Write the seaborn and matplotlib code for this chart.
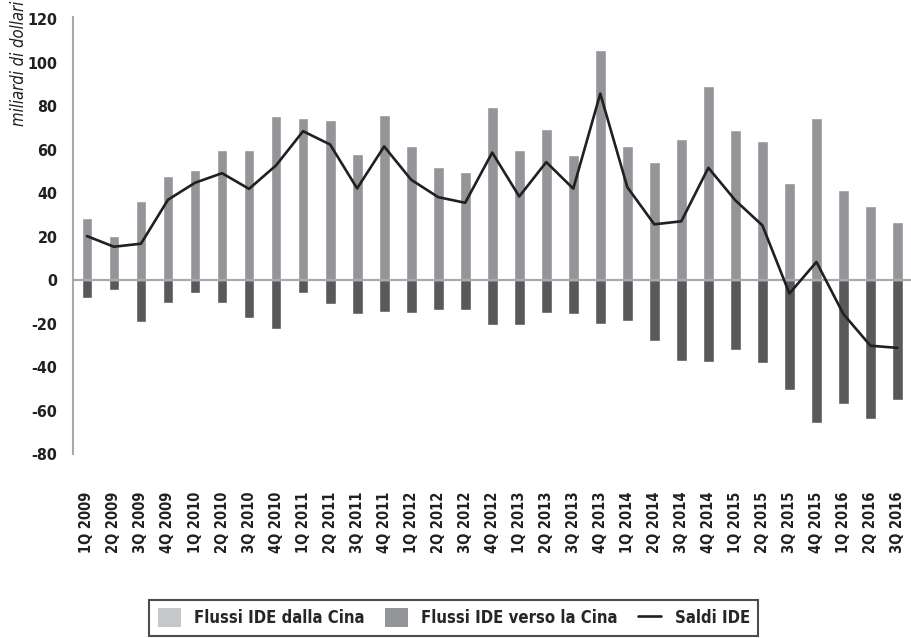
import matplotlib as mpl
mpl.use('Agg')
import matplotlib.pyplot as plt
from matplotlib.patches import Patch
from matplotlib.lines import Line2D
from matplotlib.font_manager import FontProperties
import pandas as pd
import seaborn as sns

quarters = ['1Q 2009', '2Q 2009', '3Q 2009', '4Q 2009',
            '1Q 2010', '2Q 2010', '3Q 2010', '4Q 2010',
            '1Q 2011', '2Q 2011', '3Q 2011', '4Q 2011',
            '1Q 2012', '2Q 2012', '3Q 2012', '4Q 2012',
            '1Q 2013', '2Q 2013', '3Q 2013', '4Q 2013',
            '1Q 2014', '2Q 2014', '3Q 2014', '4Q 2014',
            '1Q 2015', '2Q 2015', '3Q 2015', '4Q 2015',
            '1Q 2016', '2Q 2016', '3Q 2016']
# flussi IDE dalla Cina (uscite)
flussi_dalla = [28.6, 20.2, 36.6, 47.7, 50.9, 59.8, 59.8, 75.5, 74.5, 73.7, 58.1,
                76.1, 61.8, 52.2, 49.9, 79.8, 59.9, 69.6, 57.8, 106.0, 61.9, 54.4,
                64.7, 89.4, 69.1, 63.8, 44.6, 74.8, 41.6, 34.1, 26.6]
# flussi IDE verso la Cina (entrate, negative)
flussi_verso = [-8.0, -4.3, -19.3, -10.4, -6.0, -10.4, -17.4, -22.3, -5.7, -10.7, -15.4,
                -14.7, -15.0, -13.5, -13.9, -20.8, -20.8, -15.1, -15.3, -19.9, -18.7, -28.1,
                -37.3, -37.5, -32.0, -38.2, -50.3, -65.7, -57.0, -63.8, -54.9]
saldi = [20.3, 15.4, 16.8, 37.0, 44.8, 49.2, 42.0, 52.8, 68.5, 62.4, 42.2,
         61.5, 46.2, 38.2, 35.6, 58.7, 38.5, 54.3, 42.1, 85.8, 42.8, 25.7,
         27.1, 51.7, 36.7, 25.2, -6.1, 8.4, -15.6, -30.1, -31.1]
y_ticks = [-80, -60, -40, -20, 0, 20, 40, 60, 80, 100, 120]
legend_labels = ['Flussi IDE dalla Cina', 'Flussi IDE verso la Cina', 'Saldi IDE']

df = pd.DataFrame({'trimestre': quarters, 'dalla': flussi_dalla,
                   'verso': flussi_verso, 'saldi': saldi})

sns.set_style('white')
plt.rcParams['font.family'] = ['DejaVu Sans']
plt.rcParams['font.stretch'] = 'condensed'

c_pos = '#939598'
c_neg = '#58595b'
c_leg_light = '#c6c7c9'
c_line = '#231f20'
c_axis = '#a7a9ac'
c_text = '#231f20'

fig = plt.figure(figsize=(9.11, 6.38), dpi=100)
ax = fig.add_axes([0.080, 0.288, 0.920, 0.686])

sns.barplot(data=df, x='trimestre', y='dalla', color=c_pos, saturation=1,
            width=0.4, ax=ax, zorder=2)
sns.barplot(data=df, x='trimestre', y='verso', color=c_neg, saturation=1,
            width=0.4, ax=ax, zorder=2)
ax.axhline(0, color=c_axis, lw=1.6, zorder=3)
sns.lineplot(data=df, x='trimestre', y='saldi', color=c_line, lw=1.9,
             sort=False, ax=ax, zorder=4)

ax.set_xlim(-0.52, 30.5)
ax.set_ylim(-79.5, 121.2)
ax.set_yticks(y_ticks)
ax.set_yticklabels([str(t) for t in y_ticks], fontweight='bold', fontsize=11.5,
                   fontstretch='condensed', color=c_text)
ax.set_xticks(range(len(quarters)))
ax.set_xticklabels(quarters, rotation=90, fontweight='bold', fontsize=10.5,
                   fontstretch='condensed', color=c_text)
ax.tick_params(axis='y', length=0, pad=11)
ax.tick_params(axis='x', length=0, pad=27)
ax.set_xlabel('')
ax.set_ylabel('')

for side in ['top', 'right', 'bottom']:
    ax.spines[side].set_visible(False)
ax.spines['left'].set_color(c_axis)
ax.spines['left'].set_linewidth(1.5)

fig.text(0.021, 0.999, 'miliardi di dollari', rotation=90, ha='center', va='top',
         fontsize=12, fontstyle='italic', fontstretch='condensed', color=c_text)

handles = [Patch(facecolor=c_leg_light, edgecolor='none'),
           Patch(facecolor=c_pos, edgecolor='none'),
           Line2D([0], [0], color=c_line, lw=1.9)]
leg_font = FontProperties(family='DejaVu Sans', stretch='condensed', weight='bold', size=12)
leg = fig.legend(handles, legend_labels, loc='center', bbox_to_anchor=(0.498, 0.032),
                 ncol=3, frameon=True, fancybox=False, handlelength=1.4,
                 handleheight=1.4, handletextpad=0.8, columnspacing=1.2,
                 borderpad=0.5, borderaxespad=0, prop=leg_font)
leg.get_frame().set_edgecolor(c_text)
leg.get_frame().set_linewidth(1.5)

fig.savefig('out.png', dpi=100)
